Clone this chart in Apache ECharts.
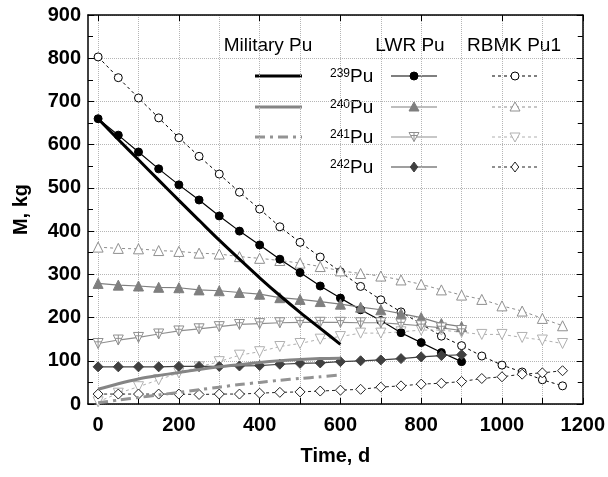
<!DOCTYPE html>
<html lang="en">
<head>
	<meta charset="UTF-8">
	<title>Pu isotopes</title>
	<style>
		html, body { margin: 0; padding: 0; background: #fff; }
		#box { width: 608px; height: 477px; }
	</style>
</head>
<body>
	<div id="box"></div>

	<script src="https://cdn.jsdelivr.net/npm/echarts@6/dist/echarts.min.js"></script>
	<script>
		// time points, days
		var milDays = [0, 50, 100, 150, 200, 250, 300, 350, 400, 450, 500, 550, 600];
		var lwrDays = [0, 50, 100, 150, 200, 250, 300, 350, 400, 450, 500, 550, 600, 650, 700, 750, 800, 850, 900];
		var rbmkDays = [0, 50, 100, 150, 200, 250, 300, 350, 400, 450, 500, 550, 600, 650, 700, 750, 800, 850, 900, 950, 1000, 1050, 1100, 1150];

		// Military Pu, kg
		var mil239 = [660, 612, 565, 518, 471, 425, 379, 335, 292, 251, 212, 175, 138];
		var mil240 = [34, 47, 58, 66, 73, 80, 86, 91, 96, 100, 103, 105, 106];
		var mil241 = [3, 9, 15, 21, 27, 33, 39, 45, 50, 55, 59, 63, 67];

		// LWR Pu, kg
		var lwr239 = [660, 622, 583, 544, 507, 472, 435, 400, 368, 335, 304, 273, 245, 218, 193, 165, 142, 119, 98];
		var lwr240 = [279, 275, 273, 270, 269, 264, 262, 258, 254, 246, 242, 237, 231, 224, 218, 209, 200, 186, 179];
		var lwr241 = [140, 148, 154, 162, 169, 174, 179, 184, 186, 188, 189, 189, 189, 188, 188, 185, 181, 176, 170];
		var lwr242 = [86, 86, 86, 86, 87, 87, 87, 88, 89, 92, 94, 95, 98, 100, 102, 105, 109, 112, 114];

		// RBMK Pu1, kg
		var rbmk239 = [803, 755, 708, 662, 616, 573, 532, 490, 451, 410, 374, 340, 306, 272, 241, 213, 185, 157, 135, 111, 90, 74, 56, 42];
		var rbmk240 = [363, 360, 359, 355, 353, 349, 347, 341, 337, 332, 326, 318, 308, 302, 296, 287, 277, 264, 252, 242, 227, 215, 198, 181];
		var rbmk241 = [5, 25, 40, 56, 72, 86, 98, 113, 121, 133, 140, 150, 156, 164, 164, 167, 171, 171, 166, 161, 161, 154, 148, 140];
		var rbmk242 = [23, 23, 23, 23, 23, 22, 23, 23, 25, 27, 28, 30, 32, 34, 39, 42, 46, 48, 52, 59, 63, 69, 72, 77];

		var xTicks = [0, 100, 200, 300, 400, 500, 600, 700, 800, 900, 1000, 1100, 1200];
		var xLabels = [0, 200, 400, 600, 800, 1000, 1200];
		var isoNames = ['239', '240', '241', '242'];
		var groupNames = ['Military Pu', 'LWR Pu', 'RBMK Pu1'];

		var FONT = '"Liberation Sans", Arial, Helvetica, sans-serif';
		var crossTri = 'path://M0,0 L10,0 L5,9 Z M5,0 L5,9 M2,3 L8,3';

		function pairs(xs, ys) {
			return xs.map(function (x, i) { return [x, ys[i]]; });
		}

		// style for each row (isotope)
		var milStyle = [
			{ color: '#000', type: 'solid' },
			{ color: '#858585', type: 'solid' },
			{ color: '#939393', type: [10, 5, 3, 5] }
		];
		var lwrStyle = [
			{ color: '#000', symbol: 'circle', size: 8, fill: '#000' },
			{ color: '#7f7f7f', symbol: 'triangle', size: 10, fill: '#7f7f7f' },
			{ color: '#8f8f8f', symbol: crossTri, size: 10, fill: '#fff' },
			{ color: '#404040', symbol: 'diamond', size: 10, fill: '#404040' }
		];
		var rbmkStyle = [
			{ color: '#000', symbol: 'circle', size: 8, fill: '#fff' },
			{ color: '#8f8f8f', symbol: 'triangle', size: 10, fill: '#fff' },
			{ color: '#b0b0b0', symbol: 'triangle', rotate: 180, size: 10, fill: '#fff' },
			{ color: '#222', symbol: 'diamond', size: 10, fill: '#fff' }
		];

		var milData = [mil239, mil240, mil241];
		var lwrData = [lwr239, lwr240, lwr241, lwr242];
		var rbmkData = [rbmk239, rbmk240, rbmk241, rbmk242];

		var series = [];
		rbmkData.forEach(function (d, i) {
			var s = rbmkStyle[i];
			series.push({
				type: 'line', name: 'RBMK ' + isoNames[i], data: pairs(rbmkDays, d),
				symbol: s.symbol, symbolSize: s.size, symbolRotate: s.rotate || 0,
				itemStyle: { color: s.fill, borderColor: s.color, borderWidth: 1 },
				lineStyle: { color: s.color, width: 1, type: [3, 3] },
				z: 2
			});
		});
		lwrData.forEach(function (d, i) {
			var s = lwrStyle[i];
			series.push({
				type: 'line', name: 'LWR ' + isoNames[i], data: pairs(lwrDays, d),
				symbol: s.symbol, symbolSize: s.size,
				itemStyle: { color: s.fill, borderColor: s.color, borderWidth: 1 },
				lineStyle: { color: s.color, width: 1.2 },
				z: 3
			});
		});
		milData.forEach(function (d, i) {
			var s = milStyle[i];
			series.push({
				type: 'line', name: 'Military ' + isoNames[i], data: pairs(milDays, d),
				symbol: 'none', smooth: 0.3,
				lineStyle: { color: s.color, width: 3, type: s.type },
				z: 4
			});
		});
		series.forEach(function (s) {
			s.emphasis = { disabled: true };
			s.silent = true;
		});

		// legend drawn by hand: three columns, four rows
		var rowY = [76, 107, 137, 167];
		var graphics = [];
		var headX = [268, 410, 514];
		groupNames.forEach(function (t, i) {
			graphics.push({
				type: 'text', x: headX[i], y: 46,
				style: { text: t, font: '19px ' + FONT, fill: '#000', align: 'center', verticalAlign: 'middle' }
			});
		});

		function legendMarker(s, cx, cy) {
			var st = { fill: s.fill, stroke: s.color, lineWidth: 1 };
			var r = s.size / 2;
			if (s.symbol === 'circle') {
				return { type: 'circle', shape: { cx: cx, cy: cy, r: 4 }, style: st };
			}
			if (s.symbol === 'diamond') {
				return { type: 'polygon', shape: { points: [[cx, cy - r], [cx + r * 0.75, cy], [cx, cy + r], [cx - r * 0.75, cy]] }, style: st };
			}
			if (s.symbol === 'triangle' && !s.rotate) {
				return { type: 'polygon', shape: { points: [[cx, cy - r], [cx + r, cy + r * 0.8], [cx - r, cy + r * 0.8]] }, style: st };
			}
			if (s.symbol === 'triangle') {
				return { type: 'polygon', shape: { points: [[cx, cy + r], [cx + r, cy - r * 0.8], [cx - r, cy - r * 0.8]] }, style: st };
			}
			// down triangle with cross
			return {
				type: 'group', children: [
					{ type: 'polygon', shape: { points: [[cx - 5, cy - 4.5], [cx + 5, cy - 4.5], [cx, cy + 4.5]] }, style: st },
					{ type: 'line', shape: { x1: cx, y1: cy - 4.5, x2: cx, y2: cy + 4.5 }, style: { stroke: s.color, lineWidth: 1 } },
					{ type: 'line', shape: { x1: cx - 3, y1: cy - 1.5, x2: cx + 3, y2: cy - 1.5 }, style: { stroke: s.color, lineWidth: 1 } }
				]
			};
		}

		rowY.forEach(function (y, i) {
			if (milStyle[i]) {
				var m = milStyle[i];
				graphics.push({
					type: 'line', shape: { x1: 255, y1: y, x2: 302, y2: y },
					style: { stroke: m.color, lineWidth: 3, lineDash: m.type === 'solid' ? null : [10, 5, 3, 5] }
				});
			}
			graphics.push({
				type: 'text', x: 330, y: y + 1,
				style: {
					text: '{s|' + isoNames[i] + '}{b|Pu}', fill: '#000', verticalAlign: 'middle',
					rich: {
						s: { font: '12px ' + FONT, verticalAlign: 'top', fill: '#000' },
						b: { font: '19px ' + FONT, fill: '#000', verticalAlign: 'bottom' }
					}
				}
			});
			var l = lwrStyle[i];
			graphics.push({ type: 'line', shape: { x1: 391, y1: y, x2: 437, y2: y }, style: { stroke: l.color, lineWidth: 1.2 } });
			graphics.push(legendMarker(l, 414, y));
			var r = rbmkStyle[i];
			graphics.push({ type: 'line', shape: { x1: 492, y1: y, x2: 538, y2: y }, style: { stroke: r.color, lineWidth: 1, lineDash: [3, 3] } });
			graphics.push(legendMarker(r, 515, y));
		});

		var labelStyle = { color: '#000', fontSize: 20, fontWeight: 'bold', fontFamily: FONT };
		var lineSt = { color: '#000', width: 1.5 };
		var grid = { type: 'dotted', color: '#b5b5b5', width: 1 };
		var plain = function (v) { return String(v); };

		var option = {
			animation: false,
			backgroundColor: '#fff',
			grid: { left: 88, right: 25, top: 15, bottom: 73 },
			xAxis: [{
				type: 'value', min: -25, max: 1200, position: 'bottom',
				name: 'Time, d', nameLocation: 'middle', nameGap: 42,
				nameTextStyle: { color: '#000', fontSize: 20, fontWeight: 'bold', fontFamily: FONT },
				axisLine: { onZero: false, lineStyle: lineSt },
				axisTick: { inside: true, length: 6, customValues: xTicks, lineStyle: { color: '#000' } },
				axisLabel: Object.assign({ customValues: xLabels, margin: 11, formatter: plain }, labelStyle),
				splitLine: { show: true, customValues: xTicks, lineStyle: grid }
			}, {
				type: 'value', min: -25, max: 1200, position: 'top',
				axisLine: { onZero: false, lineStyle: lineSt },
				axisTick: { inside: true, length: 6, customValues: xLabels, lineStyle: { color: '#000' } },
				axisLabel: { show: false },
				splitLine: { show: false }
			}],
			yAxis: [{
				type: 'value', min: 0, max: 900, interval: 100, position: 'left',
				name: 'M, kg', nameLocation: 'middle', nameGap: 57, nameRotate: 90,
				nameTextStyle: { color: '#000', fontSize: 20, fontWeight: 'bold', fontFamily: FONT },
				axisLine: { show: true, onZero: false, lineStyle: lineSt },
				axisTick: { inside: true, length: 6, lineStyle: { color: '#000' } },
				minorTick: { show: true, splitNumber: 2, length: 5, lineStyle: { color: '#000' } },
				axisLabel: Object.assign({ margin: 7, formatter: plain }, labelStyle),
				splitLine: { show: true, lineStyle: grid }
			}, {
				type: 'value', min: 0, max: 900, interval: 100, position: 'right',
				axisLine: { show: true, onZero: false, lineStyle: lineSt },
				axisTick: { inside: true, length: 6, lineStyle: { color: '#000' } },
				minorTick: { show: true, splitNumber: 2, length: 5, lineStyle: { color: '#000' } },
				axisLabel: { show: false },
				splitLine: { show: false }
			}],
			series: series,
			graphic: graphics
		};

		var myChart = echarts.init(document.getElementById('box'));
		myChart.setOption(option);
	</script>
</body>
</html>
